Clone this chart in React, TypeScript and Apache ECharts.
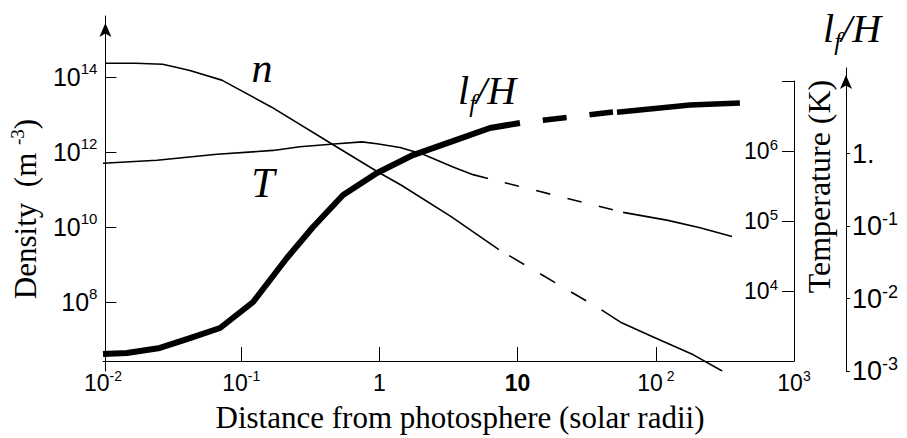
import React, { useEffect, useRef } from 'react';
import * as echarts from 'echarts';

// ---------- data ----------
// density n (m^-3) vs distance (solar radii)
const distN = [0.01, 0.0165, 0.026, 0.032, 0.041, 0.07, 0.16, 0.46, 0.96, 1.41, 3.24, 7.2];
const densityN = [2.35e14, 2.35e14, 2.2e14, 1.85e14, 1.5e14, 8.3e13, 1.6e13, 1.5e12, 2.9e11, 1.3e11, 1.9e10, 2.5e9];
const distNDashed = [7.2, 40];
const densityNDashed = [2.5e9, 6.2e7];
const distNTail = [40, 55, 95, 186, 301];
const densityNTail = [6.2e7, 2.9e7, 1.17e7, 3.9e6, 1.45e6];

// temperature T (K)
const distT = [0.01, 0.0246, 0.0668, 0.17, 0.266, 0.493, 0.748, 0.96, 1.41, 2.07, 3.41, 4.76, 6.11];
const tempT = [6.7e5, 7.4e5, 9.0e5, 1.02e6, 1.15e6, 1.27e6, 1.35e6, 1.27e6, 1.12e6, 9.0e5, 5.9e5, 4.6e5, 4.05e5];
const distTDashed = [6.11, 58];
const tempTDashed = [4.05e5, 1.33e5];
const distTTail = [58, 120, 209, 356];
const tempTTail = [1.33e5, 1.03e5, 8.0e4, 6.0e4];

// l_f / H
const distL = [0.01, 0.0149, 0.0258, 0.0426, 0.0703, 0.122, 0.214, 0.331, 0.546, 0.96, 1.75, 3.24, 6.31, 10.4];
const ratioL = [1.71e-3, 1.77e-3, 2.08e-3, 2.85e-3, 3.92e-3, 8.95e-3, 0.0362, 0.0968, 0.268, 0.538, 0.953, 1.44, 2.25, 2.64];
const distLDashed = [10.4, 49];
const ratioLDashed = [2.64, 3.75];
const distLTail = [52.4, 177, 406];
const ratioLTail = [3.72, 4.67, 4.97];

// tick values
const xLabelValues = [0.01, 0.1, 1, 10, 100, 1000];
const xTickValues = [0.1, 1, 10, 100];
const densityTickValues = [1e8, 1e10, 1e12, 1e14];
const tempLabelValues = [1e4, 1e5, 1e6];
const tempTickValues = [1e4, 1e5, 1e6, 1e7];
const ratioTickValues = [1e-3, 1e-2, 1e-1, 1];

// axis extents
const X_MIN = 0.01;
const X_MAX = 1000;
const DENS_MIN = Math.pow(10, 6.16);
const DENS_MAX = Math.pow(10, 15.63);
const TEMP_MIN = 1e3;
const TEMP_MAX = 1e7;
const RATIO_MIN = 1e-3;
const RATIO_MAX = Math.pow(10, 1.18);

const SERIF = '"Liberation Serif", "Times New Roman", serif';
const SANS = '"Liberation Sans", Arial, sans-serif';
const BLACK = '#000';

const zip = (xs: number[], ys: number[]) => xs.map((x, i) => [x, ys[i]]);
const exp10 = (v: number) => Math.round(Math.log10(v));

const sup = (size: number) => ({
  fontSize: size,
  lineHeight: size,
  verticalAlign: 'top',
  fontFamily: SANS,
  color: BLACK,
});

const lineStyleAxis = { color: BLACK, width: 1 };

const xFormatter = (v: number) => {
  const e = exp10(v);
  if (e === 0) return '1';
  if (e === 1) return '{b|10}';
  if (e === 2) return '10{s| 2}';
  return '10{s|' + e + '}';
};
const powFormatter = (v: number) => '10{s|' + exp10(v) + '}';
const ratioFormatter = (v: number) => {
  const e = exp10(v);
  if (e === 0) return '1.';
  return '10{s|' + e + '}';
};

const lfRich = (size: number) => ({
  i: { fontFamily: SERIF, fontStyle: 'italic', fontSize: size, lineHeight: size * 1.3, color: BLACK },
  sub: {
    fontFamily: SERIF,
    fontStyle: 'italic',
    fontSize: size * 0.62,
    lineHeight: size * 0.62,
    verticalAlign: 'bottom',
    color: BLACK,
  },
});

const gridBase = { left: 103, right: 113, bottom: 67 };

const lineSeries = (
  xi: number,
  data: number[][],
  width: number,
  dash?: { type: number[]; offset: number }
) => ({
  type: 'line',
  xAxisIndex: xi,
  yAxisIndex: xi,
  data,
  symbol: 'none',
  silent: true,
  smooth: false,
  lineStyle: {
    color: BLACK,
    width,
    type: dash ? dash.type : 'solid',
    dashOffset: dash ? dash.offset : 0,
    cap: 'butt',
    join: 'round',
  },
});

const option = {
  animation: false,
  backgroundColor: '#fff',
  grid: [
    { ...gridBase, top: 16 },
    { ...gridBase, top: 81 },
    { ...gridBase, top: 68 },
  ],
  xAxis: [
    { type: 'log', gridIndex: 0, min: X_MIN, max: X_MAX, show: false },
    {
      type: 'log',
      gridIndex: 1,
      min: X_MIN,
      max: X_MAX,
      axisLine: { show: true, lineStyle: lineStyleAxis },
      axisTick: { show: true, inside: true, length: 14, customValues: xTickValues, lineStyle: lineStyleAxis },
      axisLabel: {
        customValues: xLabelValues,
        formatter: xFormatter,
        color: BLACK,
        fontFamily: SANS,
        fontSize: 23,
        lineHeight: 28,
        margin: 8,
        rich: { s: sup(14), b: { fontFamily: SANS, fontSize: 23, fontWeight: 'bold', color: BLACK } },
      },
      splitLine: { show: false },
      name: 'Distance from photosphere (solar radii)',
      nameLocation: 'middle',
      nameGap: 36,
      nameTextStyle: { fontFamily: SERIF, fontSize: 31, color: BLACK, padding: [0, 0, 0, 23] },
    },
    { type: 'log', gridIndex: 2, min: X_MIN, max: X_MAX, show: false },
  ],
  yAxis: [
    {
      type: 'log',
      gridIndex: 0,
      position: 'left',
      min: DENS_MIN,
      max: DENS_MAX,
      axisLine: {
        show: true,
        lineStyle: lineStyleAxis,
        symbol: ['none', 'arrow'],
        symbolSize: [9, 14],
        symbolOffset: [0, -7],
      },
      axisTick: { show: true, inside: true, length: 11, customValues: densityTickValues, lineStyle: lineStyleAxis },
      axisLabel: {
        customValues: densityTickValues,
        formatter: powFormatter,
        color: BLACK,
        fontFamily: SANS,
        fontSize: 25,
        lineHeight: 32,
        margin: 8,
        rich: { s: sup(15) },
      },
      splitLine: { show: false },
      name: 'Density  (m {s|-3})',
      nameLocation: 'middle',
      nameRotate: 90,
      nameGap: 60,
      nameTextStyle: {
        fontFamily: SERIF,
        fontSize: 31,
        lineHeight: 34,
        color: BLACK,
        padding: [0, 31, 0, 0],
        rich: { s: { fontFamily: SERIF, fontSize: 19, lineHeight: 19, verticalAlign: 'top', color: BLACK } },
      },
    },
    {
      type: 'log',
      gridIndex: 1,
      position: 'right',
      min: TEMP_MIN,
      max: TEMP_MAX,
      axisLine: { show: true, lineStyle: lineStyleAxis },
      axisTick: { show: true, inside: true, length: 12, customValues: tempTickValues, lineStyle: lineStyleAxis },
      axisLabel: {
        inside: true,
        customValues: tempLabelValues,
        formatter: powFormatter,
        color: BLACK,
        fontFamily: SANS,
        fontSize: 23,
        lineHeight: 28,
        margin: 16,
        rich: { s: sup(15) },
      },
      splitLine: { show: false },
      name: 'Temperature (K)',
      nameLocation: 'middle',
      nameRotate: 90,
      nameGap: 6,
      nameTextStyle: { fontFamily: SERIF, fontSize: 32, color: BLACK, padding: [0, 0, 0, 69] },
    },
    {
      type: 'log',
      gridIndex: 2,
      position: 'right',
      offset: 52,
      min: RATIO_MIN,
      max: RATIO_MAX,
      axisLine: {
        show: true,
        lineStyle: lineStyleAxis,
        symbol: ['none', 'arrow'],
        symbolSize: [9, 14],
        symbolOffset: [0, -7],
      },
      axisTick: { show: true, inside: false, length: 4, customValues: ratioTickValues, lineStyle: lineStyleAxis },
      axisLabel: {
        customValues: ratioTickValues,
        formatter: ratioFormatter,
        color: BLACK,
        fontFamily: SANS,
        fontSize: 27,
        lineHeight: 32,
        margin: 6,
        rich: { s: sup(18) },
      },
      splitLine: { show: false },
      name: '{i|l}{sub|f}{i|/H}',
      nameLocation: 'end',
      nameGap: 14,
      nameTextStyle: { padding: [0, 0, 0, 12], rich: lfRich(40) },
    },
  ],
  graphic: [
    {
      type: 'text',
      x: 262,
      y: 68,
      silent: true,
      style: {
        text: 'n',
        fontFamily: SERIF,
        fontStyle: 'italic',
        fontSize: 42,
        fill: BLACK,
        align: 'center',
        verticalAlign: 'middle',
      },
    },
    {
      type: 'text',
      x: 263,
      y: 183,
      silent: true,
      style: {
        text: 'T',
        fontFamily: SERIF,
        fontStyle: 'italic',
        fontSize: 42,
        fill: BLACK,
        align: 'center',
        verticalAlign: 'middle',
      },
    },
    {
      type: 'text',
      x: 487,
      y: 90,
      silent: true,
      style: {
        text: '{i|l}{sub|f}{i|/H}',
        rich: lfRich(40),
        align: 'center',
        verticalAlign: 'middle',
        fill: BLACK,
      },
    },
  ],
  series: [
    lineSeries(0, zip(distN, densityN), 1.6),
    lineSeries(0, zip(distNDashed, densityNDashed), 1.6, { type: [17.4, 18.5], offset: 24.3 }),
    lineSeries(0, zip(distNTail, densityNTail), 1.6),
    lineSeries(1, zip(distT, tempT), 1.6),
    lineSeries(1, zip(distTDashed, tempTDashed), 1.6, { type: [14.5, 17.8], offset: 14.5 }),
    lineSeries(1, zip(distTTail, tempTTail), 1.6),
    lineSeries(2, zip(distL, ratioL), 6),
    lineSeries(2, zip(distLDashed, ratioLDashed), 5.5, { type: [24, 23], offset: 24 }),
    lineSeries(2, zip(distLTail, ratioLTail), 5.5),
  ],
};

export default function App() {
  const ref = useRef<HTMLDivElement>(null);
  useEffect(() => {
    if (!ref.current) return;
    const chart = echarts.init(ref.current, null, { renderer: 'svg' });
    chart.setOption(option as any);
    return () => chart.dispose();
  }, []);
  return (
    <div
      ref={ref}
      style={{ position: 'absolute', left: 0, top: 0, width: 907, height: 438, background: '#fff' }}
    />
  );
}
